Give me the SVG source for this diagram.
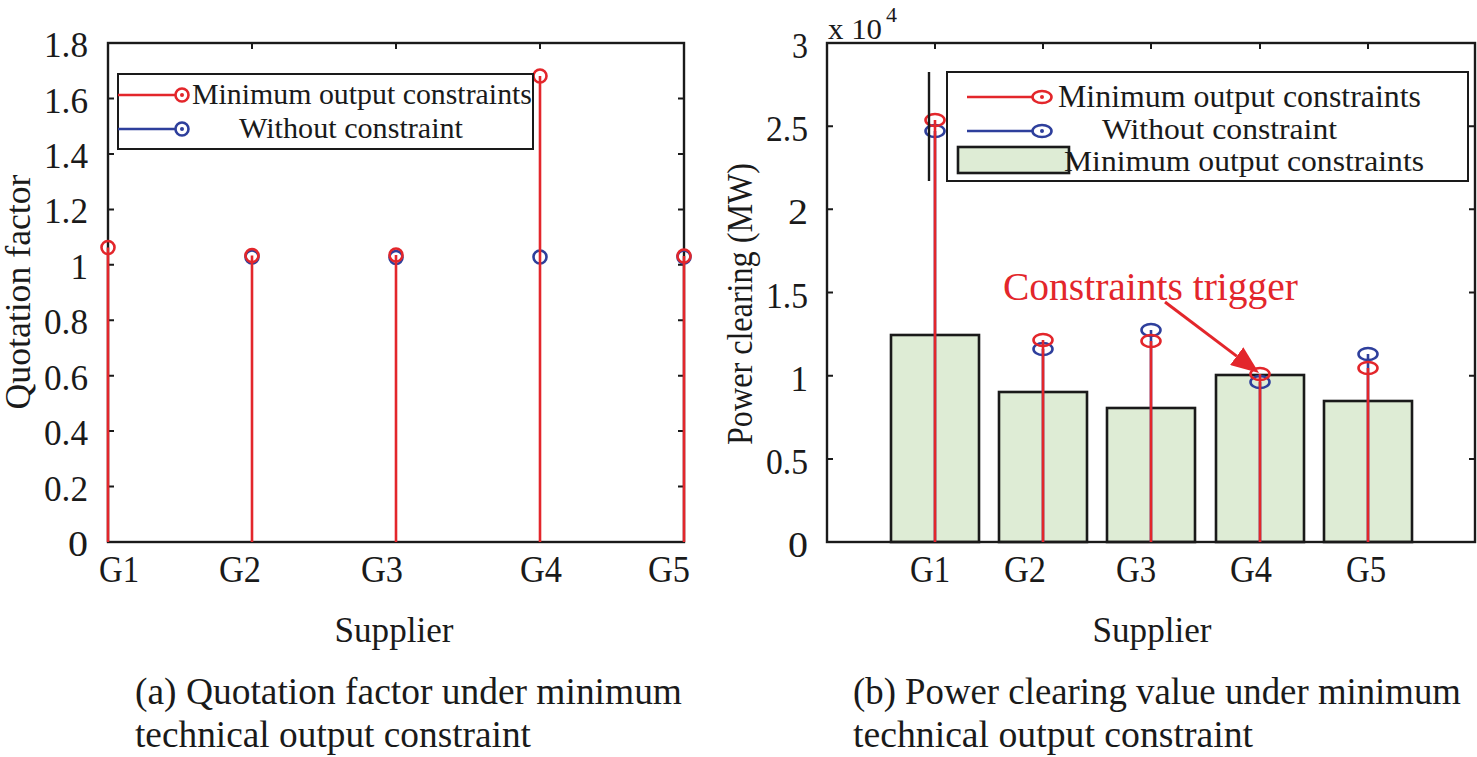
<svg xmlns="http://www.w3.org/2000/svg" width="1477" height="757" viewBox="0 0 1477 757" font-family="'Liberation Serif', 'Times New Roman', Times, serif">
<style>
text{font-family:'Liberation Serif','Times New Roman',Times,serif;fill:#1a1a1a}
.tick{font-size:35px;text-anchor:end}
.xl{font-size:37px;text-anchor:middle}
.ax{fill:none;stroke:#1a1a1a;stroke-width:2.4}
.tk{stroke:#1a1a1a;stroke-width:2}
.rs{stroke:#e3262b;stroke-width:2.6;fill:none}
.bs{stroke:#2e3f9c;stroke-width:2.6;fill:none}
.bar{fill:#deecd5;stroke:#1a1a1a;stroke-width:2.6}
.leg{fill:#fff;stroke:#1a1a1a;stroke-width:2}
.red{fill:#e3262b}
</style>
<defs>
<marker id="ah" markerWidth="28" markerHeight="22" refX="0" refY="11" orient="auto" markerUnits="userSpaceOnUse"><path d="M0,0 L28,11 L0,22 z" fill="#e3262b"/></marker>
</defs>
<rect width="1477" height="757" fill="#fff"/>

<!-- Panel (a) -->
<g id="panel-a">
<g id="a-axes">
<rect class="ax" x="108" y="43" width="576" height="499"/>
<path class="tk" d="M108,486.6h6M108,431.1h6M108,375.7h6M108,320.2h6M108,264.8h6M108,209.4h6M108,154h6M108,98.5h6M684,486.6h-6M684,431.1h-6M684,375.7h-6M684,320.2h-6M684,264.8h-6M684,209.4h-6M684,154h-6M684,98.5h-6M252,43v6M396,43v6M540,43v6M252,542v-6M396,542v-6M540,542v-6"/>
<text class="tick" x="88" y="556" textLength="20" lengthAdjust="spacingAndGlyphs">0</text>
<text class="tick" x="88" y="500.6" textLength="44" lengthAdjust="spacingAndGlyphs">0.2</text>
<text class="tick" x="88" y="445.1" textLength="44" lengthAdjust="spacingAndGlyphs">0.4</text>
<text class="tick" x="88" y="389.7" textLength="44" lengthAdjust="spacingAndGlyphs">0.6</text>
<text class="tick" x="88" y="334.2" textLength="44" lengthAdjust="spacingAndGlyphs">0.8</text>
<text class="tick" x="88" y="278.8">1</text>
<text class="tick" x="88" y="223.4" textLength="44" lengthAdjust="spacingAndGlyphs">1.2</text>
<text class="tick" x="88" y="168" textLength="44" lengthAdjust="spacingAndGlyphs">1.4</text>
<text class="tick" x="88" y="112.5" textLength="44" lengthAdjust="spacingAndGlyphs">1.6</text>
<text class="tick" x="88" y="57" textLength="44" lengthAdjust="spacingAndGlyphs">1.8</text>
<text class="xl" x="119" y="582" textLength="40" lengthAdjust="spacingAndGlyphs">G1</text>
<text class="xl" x="240" y="582" textLength="42" lengthAdjust="spacingAndGlyphs">G2</text>
<text class="xl" x="382" y="582" textLength="42" lengthAdjust="spacingAndGlyphs">G3</text>
<text class="xl" x="541" y="582" textLength="42" lengthAdjust="spacingAndGlyphs">G4</text>
<text class="xl" x="669" y="582" textLength="42" lengthAdjust="spacingAndGlyphs">G5</text>
<text x="394" y="642" font-size="36" text-anchor="middle" textLength="119" lengthAdjust="spacingAndGlyphs">Supplier</text>
<text transform="translate(30,292) rotate(-90)" font-size="36" text-anchor="middle" textLength="235" lengthAdjust="spacingAndGlyphs">Quotation factor</text>
</g>
<g id="a-series-blue">
<circle class="bs" cx="252" cy="257" r="6.5"/>
<circle class="bs" cx="396" cy="257.5" r="6.5"/>
<circle class="bs" cx="540" cy="257" r="6.5"/>
<circle class="bs" cx="684" cy="257" r="6.5"/>
</g>
<g id="a-series-red">
<path class="rs" d="M108,542V247.5M252,542V255.5M396,542V255M540,542V76M684,542V256"/>
<circle class="rs" cx="108" cy="247.5" r="6.5"/>
<circle class="rs" cx="252" cy="255.5" r="6.5"/>
<circle class="rs" cx="396" cy="255" r="6.5"/>
<circle class="rs" cx="540" cy="76" r="6.5"/>
<circle class="rs" cx="684" cy="256" r="6.5"/>
</g>
<g id="a-legend">
<rect class="leg" x="118" y="74" width="415" height="75"/>
<path class="rs" d="M118,95H176"/>
<circle class="rs" cx="182" cy="95" r="6.5"/>
<circle cx="182" cy="95" r="2" fill="#e3262b"/>
<path class="bs" d="M118,129H176"/>
<circle class="bs" cx="182" cy="129" r="6.5"/>
<circle cx="182" cy="129" r="2" fill="#2e3f9c"/>
<text x="192" y="104" font-size="30" textLength="340" lengthAdjust="spacingAndGlyphs">Minimum output constraints</text>
<text x="239" y="138" font-size="30" textLength="224" lengthAdjust="spacingAndGlyphs">Without constraint</text>
</g>
<g id="a-caption">
<text x="135" y="704" font-size="38" textLength="547" lengthAdjust="spacingAndGlyphs">(a) Quotation factor under minimum</text>
<text x="135" y="747" font-size="38" textLength="396" lengthAdjust="spacingAndGlyphs">technical output constraint</text>
</g>
</g>

<!-- Panel (b) -->
<g id="panel-b">
<g id="b-axes">
<path class="tk" d="M827,459h6M827,375.7h6M827,292.5h6M827,209.3h6M827,126.2h6M1475,459h-6M1475,375.7h-6M1475,292.5h-6M1475,209.3h-6M1475,126.2h-6M935,43v6M1043,43v6M1151,43v6M1260,43v6M1368,43v6"/>
<text class="tick" x="808" y="557" textLength="20" lengthAdjust="spacingAndGlyphs">0</text>
<text class="tick" x="808" y="474" textLength="42" lengthAdjust="spacingAndGlyphs">0.5</text>
<text class="tick" x="808" y="390.7">1</text>
<text class="tick" x="808" y="307.5" textLength="42" lengthAdjust="spacingAndGlyphs">1.5</text>
<text class="tick" x="808" y="224.3" textLength="20" lengthAdjust="spacingAndGlyphs">2</text>
<text class="tick" x="808" y="141.2" textLength="42" lengthAdjust="spacingAndGlyphs">2.5</text>
<text class="tick" x="808" y="58" textLength="16" lengthAdjust="spacingAndGlyphs">3</text>
<text x="828" y="39" font-size="29" textLength="54" lengthAdjust="spacingAndGlyphs">x 10</text>
<text x="886" y="22" font-size="22">4</text>
<text class="xl" x="930" y="582" textLength="40" lengthAdjust="spacingAndGlyphs">G1</text>
<text class="xl" x="1025" y="582" textLength="42" lengthAdjust="spacingAndGlyphs">G2</text>
<text class="xl" x="1136" y="582" textLength="40" lengthAdjust="spacingAndGlyphs">G3</text>
<text class="xl" x="1251" y="582" textLength="42" lengthAdjust="spacingAndGlyphs">G4</text>
<text class="xl" x="1366" y="582" textLength="40" lengthAdjust="spacingAndGlyphs">G5</text>
<text x="1152" y="642" font-size="36" text-anchor="middle" textLength="119" lengthAdjust="spacingAndGlyphs">Supplier</text>
<text transform="translate(752,304) rotate(-90)" font-size="35" text-anchor="middle" textLength="282" lengthAdjust="spacingAndGlyphs">Power clearing (MW)</text>
</g>
<g id="b-bars">
<rect class="bar" x="891" y="335" width="88" height="207"/>
<rect class="bar" x="999" y="392" width="88" height="150"/>
<rect class="bar" x="1107" y="408" width="88" height="134"/>
<rect class="bar" x="1216" y="375" width="88" height="167"/>
<rect class="bar" x="1324" y="401" width="88" height="141"/>
</g>
<rect class="ax" x="827" y="43" width="648" height="499"/>
<g id="b-series-blue">
<path class="bs" d="M935,542V131M1043,542V349M1151,542V330M1260,542V382M1368,542V354"/>
<ellipse class="bs" cx="935" cy="131" rx="9.5" ry="6"/>
<ellipse class="bs" cx="1043" cy="349" rx="9.5" ry="6"/>
<ellipse class="bs" cx="1151" cy="330" rx="9.5" ry="6"/>
<ellipse class="bs" cx="1260" cy="382" rx="9.5" ry="6"/>
<ellipse class="bs" cx="1368" cy="354" rx="9.5" ry="6"/>
</g>
<g id="b-series-red">
<path class="rs" d="M935,542V120M1043,542V340M1151,542V341M1260,542V374M1368,542V368"/>
<ellipse class="rs" cx="935" cy="120" rx="9.5" ry="6"/>
<ellipse class="rs" cx="1043" cy="340" rx="9.5" ry="6"/>
<ellipse class="rs" cx="1151" cy="341" rx="9.5" ry="6"/>
<ellipse class="rs" cx="1260" cy="374" rx="9.5" ry="6"/>
<ellipse class="rs" cx="1368" cy="368" rx="9.5" ry="6"/>
</g>
<g id="b-legend">
<path d="M929,72V181" stroke="#1a1a1a" stroke-width="2.4"/>
<rect class="leg" x="947" y="72" width="521" height="109"/>
<path class="rs" d="M967,97H1032"/>
<ellipse class="rs" cx="1042" cy="97" rx="9.5" ry="6"/>
<circle cx="1042" cy="97" r="2" fill="#e3262b"/>
<path class="bs" d="M967,131H1032"/>
<ellipse class="bs" cx="1042" cy="131" rx="9.5" ry="6"/>
<circle cx="1042" cy="131" r="2" fill="#2e3f9c"/>
<rect class="bar" x="958" y="147" width="111" height="26" stroke-width="2.2"/>
<text x="1058" y="107" font-size="31" textLength="363" lengthAdjust="spacingAndGlyphs">Minimum output constraints</text>
<text x="1102" y="139" font-size="30" textLength="235" lengthAdjust="spacingAndGlyphs">Without constraint</text>
<text x="1064" y="171" font-size="30" textLength="360" lengthAdjust="spacingAndGlyphs">Minimum output constraints</text>
</g>
<g id="b-annotation">
<text class="red" x="1003" y="300" font-size="39" style="fill:#e3262b" textLength="295" lengthAdjust="spacingAndGlyphs">Constraints trigger</text>
</g>
<g id="b-caption">
<text x="853" y="704" font-size="37" textLength="608" lengthAdjust="spacingAndGlyphs">(b) Power clearing value under minimum</text>
<text x="853" y="747" font-size="37" textLength="400" lengthAdjust="spacingAndGlyphs">technical output constraint</text>
</g>
</g>

<g id="connectors">
<path d="M1165,302L1236.7,356.1" stroke="#e3262b" stroke-width="3" fill="none" marker-end="url(#ah)"/>
</g>
</svg>
